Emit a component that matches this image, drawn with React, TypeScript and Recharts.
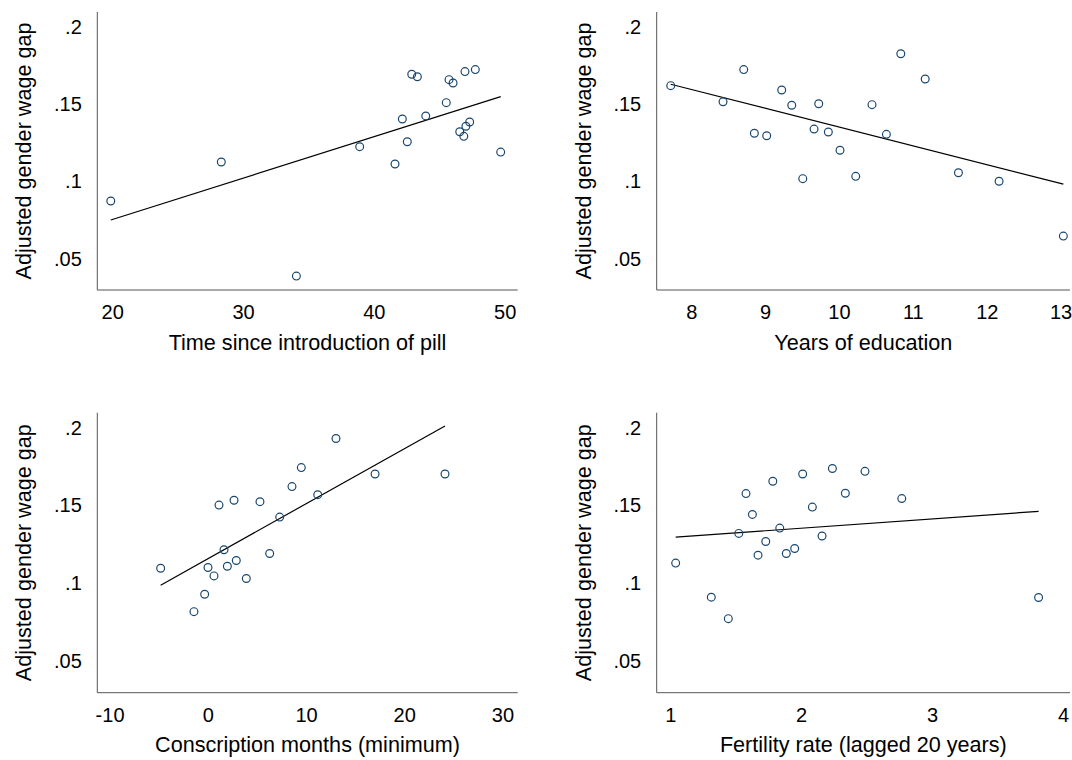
import { ComposedChart, Scatter, XAxis, YAxis } from "recharts";

// y axis shared by all four panels
const gapTicks = [0.05, 0.1, 0.15, 0.2];
const gapTickLabels = [".05", ".1", ".15", ".2"];
const gapTitle = "Adjusted gender wage gap";

// panel 1: pill
const pillTicks = [20, 30, 40, 50];
const pillYears = [19.85, 28.3, 34.04, 38.88, 41.58, 42.14, 42.52, 42.86, 43.29, 43.93, 45.5, 45.71, 46.02, 46.53, 46.84, 47.0, 47.29, 46.93, 47.72, 49.66];
const pillGap = [0.0871, 0.1124, 0.0385, 0.1223, 0.1111, 0.1402, 0.1255, 0.1692, 0.1676, 0.1422, 0.1508, 0.1657, 0.1635, 0.132, 0.129, 0.1355, 0.1383, 0.1709, 0.1722, 0.1188];
const pillFitX = [19.85, 49.66];
const pillFitY = [0.0748, 0.1547];

// panel 2: education
const eduTicks = [8, 9, 10, 11, 12, 13];
const eduYears = [7.716, 8.424, 8.704, 8.848, 9.015, 9.218, 9.354, 9.503, 9.656, 9.719, 9.849, 10.007, 10.22, 10.44, 10.635, 10.83, 11.16, 11.61, 12.16, 13.03];
const eduGap = [0.1618, 0.1514, 0.1722, 0.131, 0.1294, 0.159, 0.1491, 0.1016, 0.1337, 0.1501, 0.1318, 0.12, 0.1031, 0.1495, 0.1303, 0.1825, 0.1661, 0.1054, 0.0999, 0.0644];
const eduFitX = [7.716, 13.03];
const eduFitY = [0.1627, 0.0981];

// panel 3: conscription
const conscTicks = [-10, 0, 10, 20, 30];
const conscMonths = [-4.85, -1.46, -0.37, -0.03, 0.58, 1.09, 1.6, 1.94, 2.62, 2.85, 3.87, 5.26, 6.25, 7.27, 8.52, 9.47, 11.14, 13.0, 16.98, 24.1];
const conscGap = [0.1095, 0.0816, 0.0928, 0.11, 0.1046, 0.1501, 0.1214, 0.1108, 0.1532, 0.1145, 0.1029, 0.1523, 0.119, 0.1424, 0.162, 0.1742, 0.1568, 0.1929, 0.1701, 0.1701];
const conscFitX = [-4.85, 24.1];
const conscFitY = [0.0986, 0.201];

// panel 4: fertility
const fertTicks = [1, 2, 3, 4];
const fertRate = [1.038, 1.31, 1.44, 1.52, 1.575, 1.624, 1.667, 1.726, 1.78, 1.833, 1.883, 1.947, 2.008, 2.082, 2.156, 2.235, 2.334, 2.484, 2.765, 3.81];
const fertGap = [0.1128, 0.0909, 0.0771, 0.1319, 0.1575, 0.1441, 0.1179, 0.1267, 0.1654, 0.1353, 0.119, 0.1222, 0.1701, 0.1488, 0.1302, 0.1736, 0.1577, 0.1718, 0.1543, 0.0907];
const fertFitX = [1.038, 3.81];
const fertFitY = [0.1295, 0.1461];

const zip = (xs: number[], ys: number[]) => xs.map((x, i) => ({ x, y: ys[i] }));

const FONT = "'Liberation Sans', Arial, sans-serif";
const AXIS_COLOR = "#555";
const MARKER = "#1a476f";
const TICK_SIZE = 20;
const TITLE_SIZE = 21.6;

type PanelProps = {
  left: number;
  top: number;
  width: number;
  height: number;
  margin: { top: number; right: number; bottom: number; left: number };
  yAxisWidth: number;
  xDomain: [number, number];
  xTicks: number[];
  xTitle: string;
  points: { x: number; y: number }[];
  fit: { x: number; y: number }[];
};

function Panel(p: PanelProps) {
  return (
    <div style={{ position: "absolute", left: p.left, top: p.top }}>
      <ComposedChart width={p.width} height={p.height} margin={p.margin}>
        <XAxis
          type="number"
          dataKey="x"
          domain={p.xDomain}
          allowDataOverflow
          ticks={p.xTicks}
          interval={0}
          height={60}
          tickLine={false}
          tickSize={0}
          tickMargin={0}
          axisLine={{ stroke: AXIS_COLOR, strokeWidth: 1 }}
          tick={(t: any) => (
            <text x={t.x} y={t.y + 22} dy="0.36em" textAnchor="middle" fontSize={TICK_SIZE} fontFamily={FONT} fill="#000">
              {t.payload.value}
            </text>
          )}
          label={{
            content: (l: any) => (
              <text
                x={l.viewBox.x + l.viewBox.width / 2}
                y={l.viewBox.y + 52}
                dy="0.36em"
                textAnchor="middle"
                fontSize={TITLE_SIZE}
                fontFamily={FONT}
                fill="#000"
              >
                {p.xTitle}
              </text>
            ),
          }}
        />
        <YAxis
          type="number"
          dataKey="y"
          domain={[0.0295, 0.2095]}
          allowDataOverflow
          ticks={gapTicks}
          interval={0}
          width={p.yAxisWidth}
          tickLine={false}
          tickSize={0}
          tickMargin={0}
          axisLine={{ stroke: AXIS_COLOR, strokeWidth: 1 }}
          tick={(t: any) => (
            <text x={t.x - 15.5} y={t.y} dy="0.36em" textAnchor="end" fontSize={TICK_SIZE} fontFamily={FONT} fill="#000">
              {gapTickLabels[gapTicks.indexOf(t.payload.value)]}
            </text>
          )}
          label={{
            content: (l: any) => {
              const cx = 23;
              const cy = l.viewBox.y + l.viewBox.height / 2;
              return (
                <text
                  x={cx}
                  y={cy}
                  dy="0.36em"
                  textAnchor="middle"
                  transform={`rotate(-90, ${cx}, ${cy})`}
                  fontSize={TITLE_SIZE}
                  fontFamily={FONT}
                  fill="#000"
                >
                  {gapTitle}
                </text>
              );
            },
          }}
        />
        <Scatter
          data={p.fit}
          line={{ stroke: "#000", strokeWidth: 1.2 }}
          shape={() => <g />}
          isAnimationActive={false}
        />
        <Scatter
          data={p.points}
          shape={(s: any) => <circle cx={s.cx} cy={s.cy} r={3.9} fill="none" stroke={MARKER} strokeWidth={1.2} />}
          isAnimationActive={false}
        />
      </ComposedChart>
    </div>
  );
}

export default function App() {
  return (
    <div style={{ position: "absolute", left: 0, top: 0, width: 1072, height: 760, background: "#fff" }}>
      <Panel
        left={0}
        top={0}
        width={536}
        height={380}
        margin={{ top: 12, right: 18.3, bottom: 30, left: 0 }}
        yAxisWidth={97.3}
        xDomain={[18.82, 50.96]}
        xTicks={pillTicks}
        xTitle="Time since introduction of pill"
        points={zip(pillYears, pillGap)}
        fit={zip(pillFitX, pillFitY)}
      />
      <Panel
        left={560}
        top={0}
        width={512}
        height={380}
        margin={{ top: 12, right: 2, bottom: 30, left: 0 }}
        yAxisWidth={96.7}
        xDomain={[7.526, 13.12]}
        xTicks={eduTicks}
        xTitle="Years of education"
        points={zip(eduYears, eduGap)}
        fit={zip(eduFitX, eduFitY)}
      />
      <Panel
        left={0}
        top={400}
        width={536}
        height={360}
        margin={{ top: 12.7, right: 18.3, bottom: 7.3, left: 0 }}
        yAxisWidth={97.3}
        xDomain={[-11.3, 31.5]}
        xTicks={conscTicks}
        xTitle="Conscription months (minimum)"
        points={zip(conscMonths, conscGap)}
        fit={zip(conscFitX, conscFitY)}
      />
      <Panel
        left={560}
        top={400}
        width={512}
        height={360}
        margin={{ top: 12.7, right: 2, bottom: 7.3, left: 0 }}
        yAxisWidth={96.7}
        xDomain={[0.893, 4.05]}
        xTicks={fertTicks}
        xTitle="Fertility rate (lagged 20 years)"
        points={zip(fertRate, fertGap)}
        fit={zip(fertFitX, fertFitY)}
      />
    </div>
  );
}
